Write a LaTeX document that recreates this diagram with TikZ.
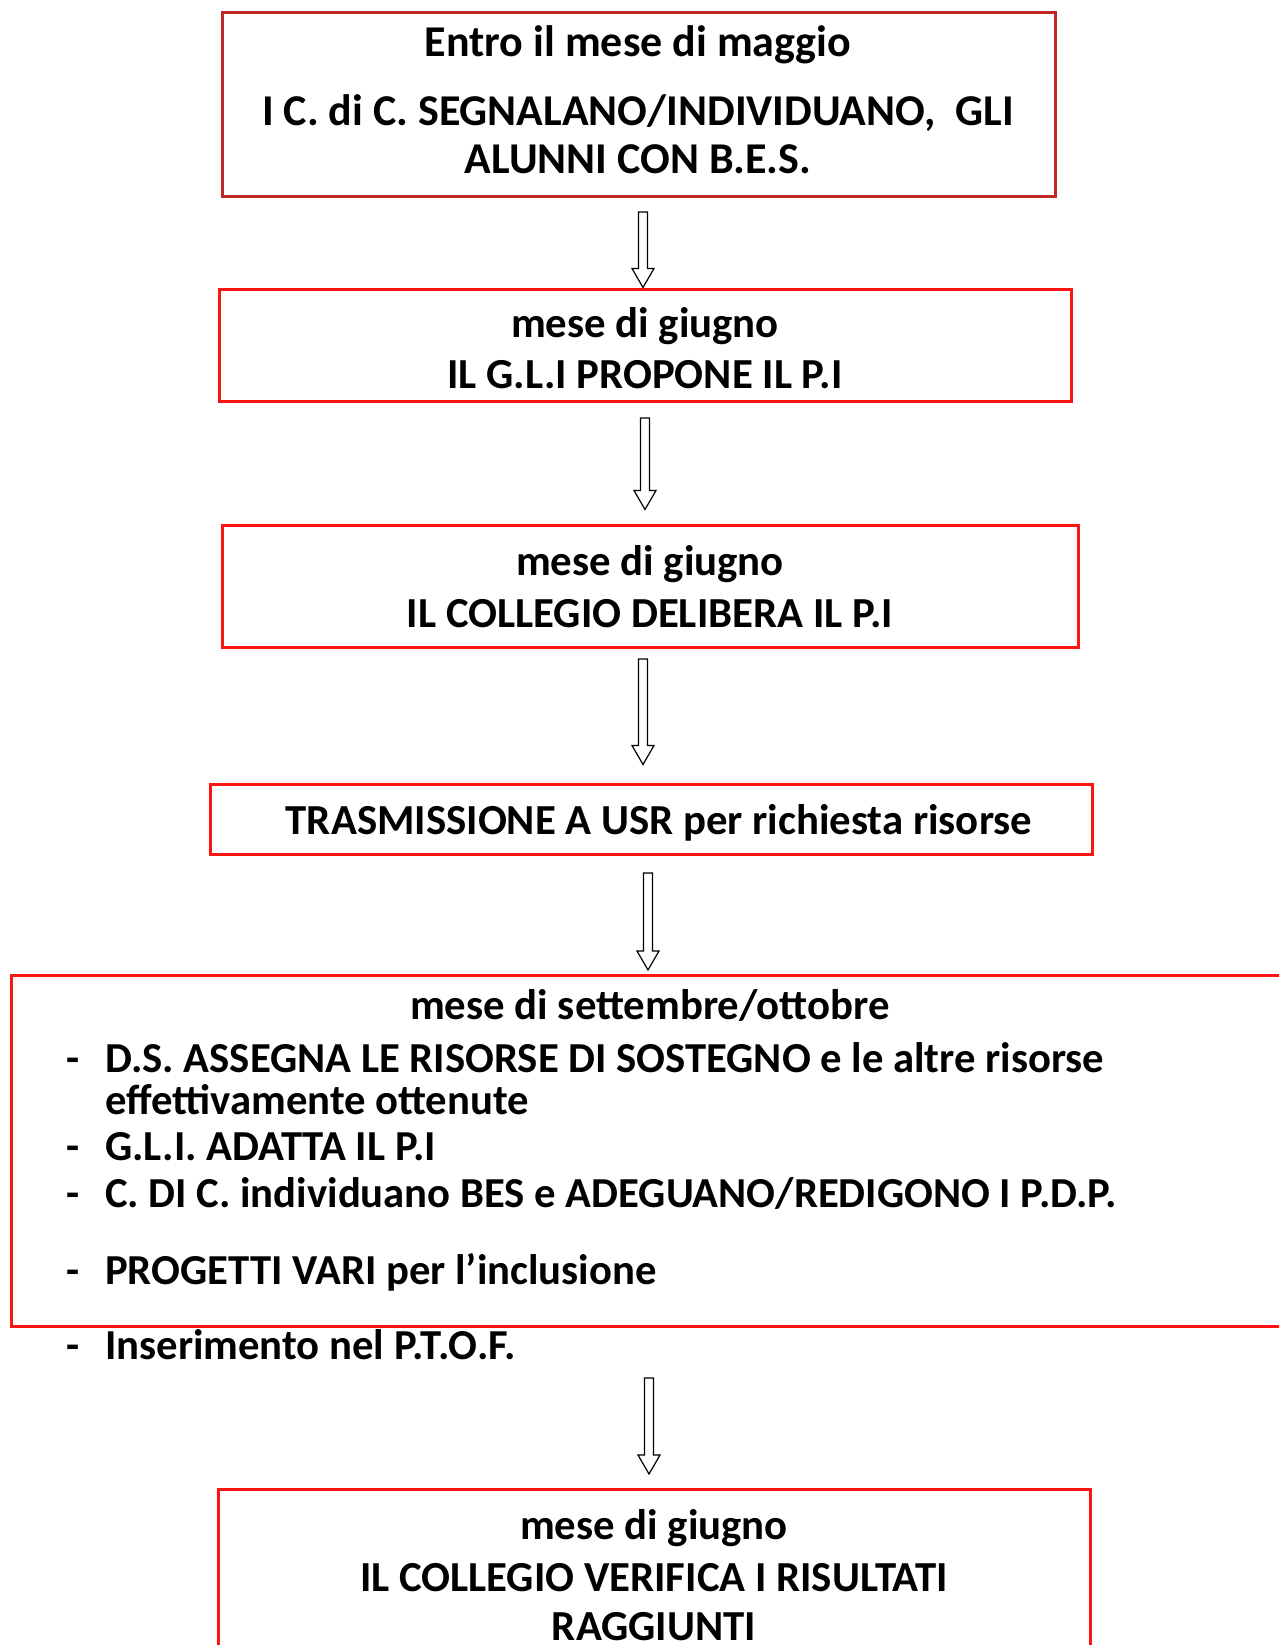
\documentclass[tikz,border=0pt]{standalone}
\usepackage{fontspec}
\setmainfont{Carlito}
\usetikzlibrary{calc}
\definecolor{boxred}{RGB}{255,20,20}
\definecolor{darkred}{RGB}{190,40,40}
\tikzset{
  x=1pt, y=-1pt,
  box/.style={draw=boxred, line width=3pt, rectangle, inner sep=0pt},
  txt/.style={font=\bfseries\fontsize{42.8}{50}\selectfont, inner sep=0pt, text height=30pt, text depth=9pt},
  toptxt/.style={font=\bfseries\fontsize{44}{50}\selectfont, inner sep=0pt, text height=30pt, text depth=9pt},
  btxt/.style={font=\bfseries\fontsize{42.7}{50}\selectfont, inner sep=0pt, text height=30pt, text depth=9pt, anchor=west},
  blockarrow/.style={draw=black, line width=1.2pt, fill=white,
    to path={let \p1=(\tikztostart), \p2=(\tikztotarget) in
      (\x1-4.5pt,\y1) -- (\x1+4.5pt,\y1) -- (\x1+4.5pt,\y2+19pt) -- (\x1+11pt,\y2+19pt)
      -- (\x1,\y2) -- (\x1-11pt,\y2+19pt) -- (\x1-4.5pt,\y2+19pt) -- cycle}}
}
\begin{document}
\begin{tikzpicture}
\useasboundingbox (0,0) rectangle (1279,1645);
\clip (0,0) rectangle (1279,1645);
\fill[white] (0,0) rectangle (1279,1645);

% box 1
\node[box, draw=darkred, minimum width=833pt, minimum height=184pt] (b1) at (638.5,105) {};
\node[toptxt] (t1a) at (638,46) {Entro il mese di maggio};
\node[toptxt] (t1b) at (638,115) {I C. di C. SEGNALANO/INDIVIDUANO,\ \ GLI};
\node[toptxt] (t1c) at (638,163) {ALUNNI CON B.E.S.};

% box 2
\node[box, minimum width=852pt, minimum height=112pt] (b2) at (645,345) {};
\node[txt] (t2a) at (645,327) {mese di giugno};
\node[txt] (t2b) at (645,378) {IL G.L.I PROPONE IL P.I};

% box 3
\node[box, minimum width=856pt, minimum height=122pt] (b3) at (650,586) {};
\node[txt] (t3a) at (650,565) {mese di giugno};
\node[txt] (t3b) at (650,617) {IL COLLEGIO DELIBERA IL P.I};

% box 4
\node[box, minimum width=882pt, minimum height=70pt] (b4) at (651,819) {};
\node[txt] (t4) at (659,824) {TRASMISSIONE A USR per richiesta risorse};

% box 5
\node[box, minimum width=1290pt, minimum height=351pt, anchor=north west] (b5) at (10,974) {};
\node[txt] (t5) at (650,1009) {mese di settembre/ottobre};
\node[btxt] (d1) at (66,1062) {-};
\node[btxt] (l1) at (105,1062) {D.S. ASSEGNA LE RISORSE DI SOSTEGNO e le altre risorse};
\node[btxt] (l1b) at (105,1104) {effettivamente ottenute};
\node[btxt] (d2) at (66,1150) {-};
\node[btxt] (l2) at (105,1150) {G.L.I. ADATTA IL P.I};
\node[btxt] (d3) at (66,1197) {-};
\node[btxt] (l3) at (105,1197) {C. DI C. individuano BES e ADEGUANO/REDIGONO I P.D.P.};
\node[btxt] (d4) at (66,1274) {-};
\node[btxt] (l4) at (105,1274) {PROGETTI VARI per l’inclusione};
\node[btxt] (d5) at (66,1349) {-};
\node[btxt] (l5) at (105,1349) {Inserimento nel P.T.O.F.};

% box 6
\node[box, minimum width=872pt, minimum height=180pt, anchor=north west] (b6) at (217,1488) {};
\node[txt] (t6a) at (654,1529) {mese di giugno};
\node[txt] (t6b) at (654,1581) {IL COLLEGIO VERIFICA I RISULTATI};
\node[txt] (t6c) at (654,1630) {RAGGIUNTI};

% arrows
\coordinate (a1) at (643,212);
\coordinate (a2) at (645,418);
\coordinate (a3) at (643,659);
\coordinate (a4) at (648,873);
\coordinate (a5) at (649,1378);
\path[blockarrow] (a1) to ($(b2.north -| a1)+(0,0)$);
\path[blockarrow] (a2) to ($(b3.north -| a2)+(0,-14)$);
\path[blockarrow] (a3) to ($(b4.north -| a3)+(0,-18)$);
\path[blockarrow] (a4) to ($(b5.north -| a4)+(0,-4)$);
\path[blockarrow] (a5) to ($(b6.north -| a5)+(0,-14)$);
\end{tikzpicture}
\end{document}
